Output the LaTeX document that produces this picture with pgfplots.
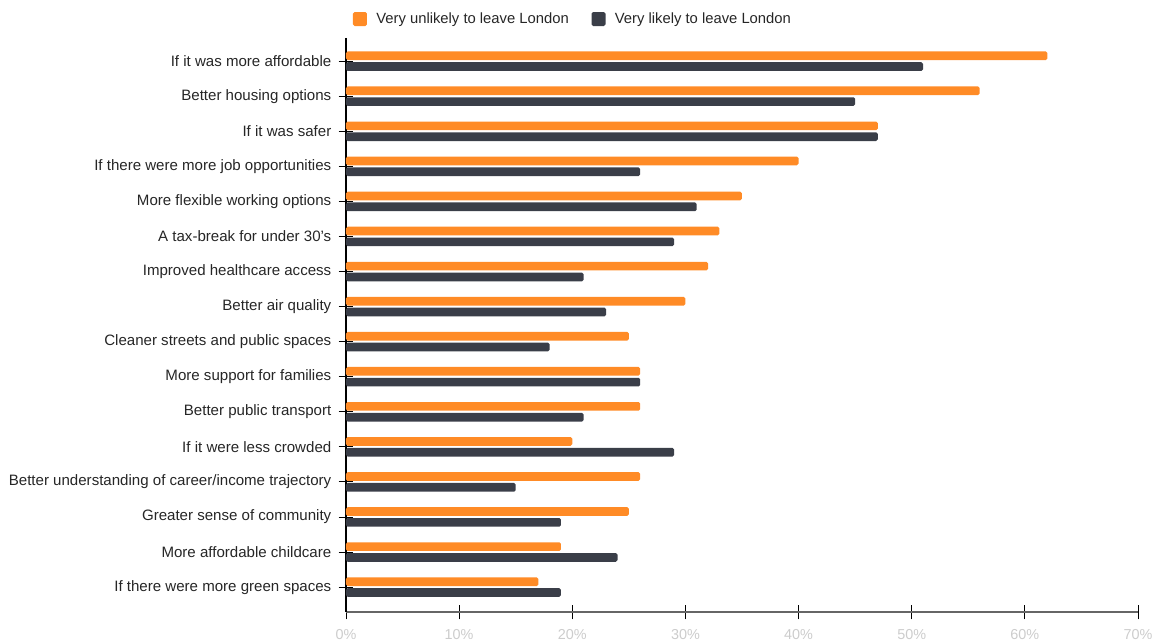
\documentclass[border=0pt]{standalone}
\usepackage{pgfplots}
\pgfplotsset{compat=1.18}
\usepackage{fontspec}
\setmainfont{Liberation Sans}
\definecolor{corange}{HTML}{FF8B26}
\definecolor{cdark}{HTML}{3A3E48}
\definecolor{cgrid}{HTML}{666666}
\definecolor{ctick}{HTML}{CCCCCC}
\begin{document}
\begin{tikzpicture}
\path[use as bounding box] (-259.5pt,-21.75pt) rectangle ++(867pt,480.75pt);
\begin{axis}[
  at={(0,0)}, anchor=south west,
  scale only axis,
  width=594pt, height=430.5pt,
  xbar, bar width=6.5pt,
  xmin=0, xmax=70,
  ymin=-0.66, ymax=15.71,
  y dir=reverse,
  axis x line*=bottom, axis y line*=left,
  x axis line style={cgrid, line width=0.9pt},
  y axis line style={black, line width=0.8pt},
  tick align=center, major tick length=11pt,
  tick style={black, line width=0.7pt},
  xtick={0,10,...,70},
  xticklabel={\pgfmathprintnumber{\tick}\%},
  /pgf/number format/assume math mode=true,
  xticklabel style={text=ctick, font=\fontsize{10.8pt}{12pt}\selectfont, yshift=-4pt},
  ytick={0,...,15},
  yticklabels={If it was more affordable, Better housing options, If it was safer, If there were more job opportunities, More flexible working options, A tax-break for under 30’s, Improved healthcare access, Better air quality, Cleaner streets and public spaces, More support for families, Better public transport, If it were less crowded, Better understanding of career/income trajectory, Greater sense of community, More affordable childcare, If there were more green spaces},
  yticklabel style={font=\fontsize{11.3pt}{12pt}\selectfont, xshift=-2pt, text=black!85},
  legend style={at={(0.287,1.033)}, anchor=center, legend columns=2, draw=none, fill=none,
    font=\fontsize{11.1pt}{12pt}\selectfont, text=black!85,
    /tikz/every odd column/.append style={column sep=5pt},
    /tikz/every even column/.append style={column sep=15pt}},
  legend image code/.code={\fill[#1] (0pt,-5.25pt) rectangle (10.5pt,5.25pt);},
]
\addplot[fill=corange, draw=none, bar shift=4.05pt, rounded corners=1.2pt] coordinates {
(62,0) (56,1) (47,2) (40,3) (35,4) (33,5) (32,6) (30,7) (25,8) (26,9) (26,10) (20,11) (26,12) (25,13) (19,14) (17,15)};
\addplot[fill=cdark, draw=none, bar shift=-4.05pt, rounded corners=1.2pt] coordinates {
(51,0) (45,1) (47,2) (26,3) (31,4) (29,5) (21,6) (23,7) (18,8) (26,9) (21,10) (29,11) (15,12) (19,13) (24,14) (19,15)};
\legend{Very unlikely to leave London, Very likely to leave London}
\end{axis}
\end{tikzpicture}
\end{document}
